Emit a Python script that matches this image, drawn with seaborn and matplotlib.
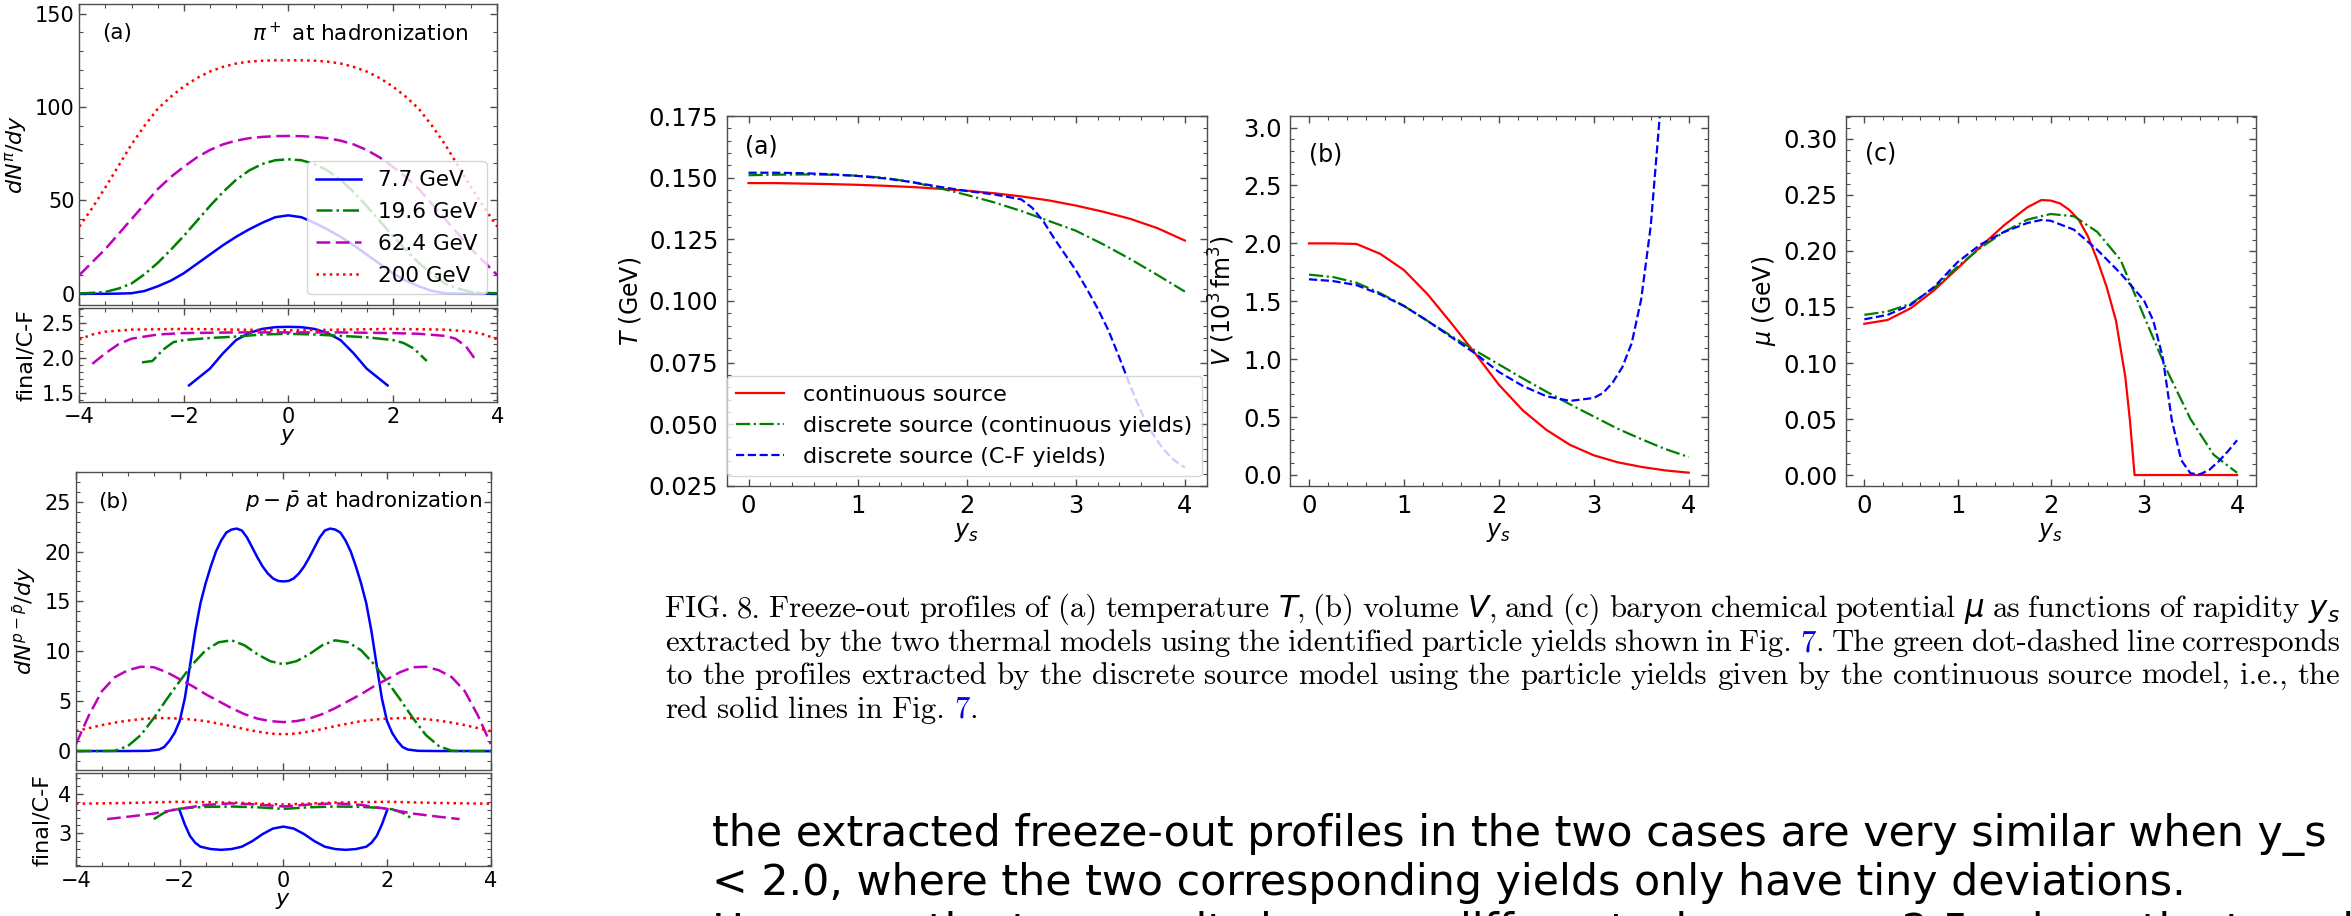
import numpy as np
import matplotlib
matplotlib.use("Agg")
import matplotlib.pyplot as plt
from matplotlib.ticker import AutoMinorLocator, MultipleLocator
import seaborn as sns

# ---------------------------------------------------------------------------
# Data
# ---------------------------------------------------------------------------
# pi+ rapidity spectra at hadronization (0.25 steps in y)
y_pi = np.arange(-4.0, 4.001, 0.25)
pi_77 = [0, 0, 0, 0.1, 0.3, 1.5, 4, 7, 11, 16, 21, 26, 30.5, 34.5, 38, 41, 42,
         41, 38, 34.5, 30.5, 26, 21, 16, 11, 7, 4, 1.5, 0.3, 0.1, 0, 0, 0]
pi_196 = [0.2, 0.5, 1, 2.8, 5.5, 10.5, 16.5, 23.5, 31, 39, 47, 54.5, 61, 66, 69.5, 71.5, 72,
          71.5, 69.5, 66, 61, 54.5, 47, 39, 31, 23.5, 16.5, 10.5, 5.5, 2.8, 1, 0.5, 0.2]
pi_624 = [10, 17, 24, 32, 40, 48, 56, 62.5, 68, 73, 77, 80, 82, 83.3, 84, 84.4, 84.5,
          84.4, 84, 83.3, 82, 80, 77, 73, 68, 62.5, 56, 48, 40, 32, 24, 17, 10]
pi_200 = [36, 46, 57, 68.5, 80, 90, 99, 105.5, 111, 115.5, 119, 121.5, 123.3, 124.3, 124.8, 125, 125,
          125, 124.8, 124.3, 123.3, 121.5, 119, 115.5, 111, 105.5, 99, 90, 80, 68.5, 57, 46, 36]

# pi+ final / C-F ratios
rpi_77_y = [-1.9, -1.75, -1.5, -1.25, -1, -0.75, -0.5, -0.25, 0, 0.25, 0.5, 0.75, 1, 1.25, 1.5, 1.75, 1.9]
rpi_77 = [1.61, 1.70, 1.85, 2.07, 2.26, 2.36, 2.42, 2.445, 2.45, 2.445, 2.42, 2.36, 2.26, 2.07, 1.85, 1.70, 1.61]
rpi_196_y = [-2.8, -2.6, -2.4, -2.2, -2, -1.5, -1, -0.5, 0, 0.5, 1, 1.5, 2, 2.2, 2.4, 2.65]
rpi_196 = [1.94, 1.96, 2.12, 2.23, 2.26, 2.29, 2.31, 2.34, 2.35, 2.34, 2.32, 2.30, 2.26, 2.22, 2.14, 1.96]
rpi_624_y = [-3.75, -3.5, -3.25, -3, -2.5, -2, -1, 0, 1, 2, 2.5, 3, 3.2, 3.4, 3.6]
rpi_624 = [1.92, 2.07, 2.20, 2.28, 2.34, 2.36, 2.37, 2.37, 2.37, 2.36, 2.35, 2.32, 2.28, 2.17, 1.96]
rpi_200_y = [-4, -3.75, -3.5, -3, -2, -1, 0, 1, 2, 3, 3.5, 3.75, 4]
rpi_200 = [2.27, 2.34, 2.38, 2.41, 2.42, 2.41, 2.40, 2.41, 2.42, 2.41, 2.38, 2.34, 2.27]

# net-proton rapidity spectra at hadronization
y_pp77 = [-4, -3, -2.6, -2.4, -2.3, -2.2, -2.1, -2.0, -1.9, -1.8, -1.7, -1.6, -1.5, -1.4, -1.3,
          -1.2, -1.1, -1.0, -0.9, -0.8, -0.7, -0.6, -0.5, -0.4, -0.3, -0.2, -0.1, 0,
          0.1, 0.2, 0.3, 0.4, 0.5, 0.6, 0.7, 0.8, 0.9, 1.0, 1.1, 1.2, 1.3, 1.4, 1.5,
          1.6, 1.7, 1.8, 1.9, 2.0, 2.1, 2.2, 2.3, 2.4, 2.6, 3, 4]
pp_77 = [0, 0, 0.02, 0.15, 0.4, 1.0, 1.8, 3.0, 5.3, 8.6, 12.0, 14.8, 16.8, 18.5, 20.0,
         21.1, 21.9, 22.2, 22.3, 22.1, 21.4, 20.4, 19.4, 18.5, 17.8, 17.3, 17.05, 17.0,
         17.05, 17.3, 17.8, 18.5, 19.4, 20.4, 21.4, 22.1, 22.3, 22.2, 21.9, 21.1, 20.0, 18.5, 16.8,
         14.8, 12.0, 8.6, 5.3, 3.0, 1.8, 1.0, 0.4, 0.15, 0.02, 0, 0]
y_pp = np.arange(-4.0, 4.001, 0.25)
pp_196 = [0, 0, 0, 0.02, 0.5, 1.6, 3.3, 5.2, 7.0, 8.7, 10.1, 10.9, 11.1, 10.6, 9.7, 9.0, 8.7,
          9.0, 9.7, 10.6, 11.1, 10.9, 10.1, 8.7, 7.0, 5.2, 3.3, 1.6, 0.5, 0.02, 0, 0, 0]
pp_624 = [0.7, 3.6, 6.0, 7.4, 8.1, 8.45, 8.4, 7.9, 7.2, 6.5, 5.7, 5.0, 4.3, 3.7, 3.25, 3.0, 2.9,
          3.0, 3.25, 3.7, 4.3, 5.0, 5.7, 6.5, 7.2, 7.9, 8.4, 8.45, 8.1, 7.4, 6.0, 3.6, 0.7]
pp_200 = [2.0, 2.3, 2.6, 2.85, 3.05, 3.2, 3.3, 3.3, 3.25, 3.15, 3.0, 2.75, 2.5, 2.2, 1.95, 1.75, 1.68,
          1.75, 1.95, 2.2, 2.5, 2.75, 3.0, 3.15, 3.25, 3.3, 3.3, 3.2, 3.05, 2.85, 2.6, 2.3, 2.0]

# net-proton final / C-F ratios
rpp_77_y = [-2, -1.9, -1.8, -1.7, -1.6, -1.4, -1.2, -1.0, -0.8, -0.6, -0.4, -0.2, 0,
            0.2, 0.4, 0.6, 0.8, 1.0, 1.2, 1.4, 1.6, 1.7, 1.8, 1.9, 2.0]
rpp_77 = [3.58, 3.22, 2.93, 2.76, 2.66, 2.60, 2.58, 2.60, 2.66, 2.80, 2.98, 3.12, 3.17,
          3.12, 2.98, 2.80, 2.66, 2.60, 2.58, 2.60, 2.66, 2.76, 2.93, 3.22, 3.58]
rpp_196_y = [-2.5, -2.3, -2.1, -1.8, -1.5, -1, -0.5, 0, 0.5, 1, 1.5, 1.8, 2.1, 2.3, 2.5]
rpp_196 = [3.36, 3.52, 3.61, 3.65, 3.67, 3.68, 3.66, 3.62, 3.66, 3.68, 3.67, 3.65, 3.61, 3.52, 3.36]
rpp_624_y = [-3.4, -3, -2.5, -2, -1.5, -1, -0.5, 0, 0.5, 1, 1.5, 2, 2.5, 3, 3.4]
rpp_624 = [3.36, 3.42, 3.50, 3.62, 3.72, 3.76, 3.73, 3.68, 3.73, 3.76, 3.72, 3.62, 3.50, 3.42, 3.36]
rpp_200_y = [-4, -3, -2, -1, 0, 1, 2, 3, 4]
rpp_200 = [3.75, 3.77, 3.80, 3.78, 3.73, 3.78, 3.80, 3.77, 3.75]

energies = ["7.7 GeV", "19.6 GeV", "62.4 GeV", "200 GeV"]

# freeze-out profiles versus source rapidity y_s
ys = np.arange(0.0, 4.001, 0.25)
T_cont = [0.1478, 0.1478, 0.1476, 0.1474, 0.1471, 0.1467, 0.1462, 0.1455, 0.1447,
          0.1437, 0.1424, 0.1408, 0.1387, 0.1362, 0.1333, 0.1295, 0.1245]
T_disc_cont = [0.1510, 0.1512, 0.1513, 0.1512, 0.1508, 0.1499, 0.1482, 0.1458, 0.1430,
               0.1400, 0.1365, 0.1325, 0.1285, 0.1230, 0.1170, 0.1105, 0.1038]
ys_T_cf = [0, 0.25, 0.5, 0.75, 1, 1.25, 1.5, 1.75, 2, 2.25, 2.5, 2.6, 2.7, 2.8, 2.9,
           3.0, 3.1, 3.2, 3.3, 3.4, 3.5, 3.6, 3.7, 3.8, 3.9, 4.0]
T_disc_cf = [0.1520, 0.1520, 0.1518, 0.1514, 0.1507, 0.1497, 0.1482, 0.1463, 0.1446,
             0.1432, 0.1412, 0.1378, 0.1325, 0.1255, 0.1190, 0.1125, 0.1050, 0.0970,
             0.0880, 0.0770, 0.0655, 0.0550, 0.0465, 0.0400, 0.0355, 0.0325]

V_cont = [2.0, 2.0, 1.995, 1.91, 1.77, 1.56, 1.31, 1.05, 0.78, 0.56, 0.39, 0.26, 0.17,
          0.11, 0.07, 0.04, 0.02]
V_disc_cont = [1.73, 1.71, 1.66, 1.57, 1.46, 1.33, 1.20, 1.075, 0.955, 0.835, 0.72, 0.61,
               0.505, 0.40, 0.31, 0.225, 0.155]
ys_V_cf = [0, 0.25, 0.5, 0.75, 1, 1.25, 1.5, 1.75, 2, 2.25, 2.5, 2.75, 3.0, 3.1, 3.2,
           3.3, 3.4, 3.5, 3.6, 3.7, 3.75]
V_disc_cf = [1.69, 1.675, 1.64, 1.56, 1.46, 1.33, 1.19, 1.05, 0.89, 0.77, 0.68, 0.64,
             0.665, 0.71, 0.80, 0.93, 1.14, 1.52, 2.15, 3.15, 3.9]

ys_mu_cont = [0, 0.25, 0.5, 0.75, 1, 1.25, 1.5, 1.75, 1.9, 2.0, 2.1, 2.2, 2.3, 2.4, 2.5,
              2.6, 2.7, 2.8, 2.85, 2.9, 3.0, 3.5, 4.0]
mu_cont = [0.135, 0.1384, 0.149, 0.165, 0.1845, 0.204, 0.223, 0.239, 0.2455, 0.245,
           0.2425, 0.2366, 0.228, 0.213, 0.192, 0.168, 0.138, 0.088, 0.049, 0.0, 0.0, 0.0, 0.0]
mu_disc_cont = [0.143, 0.146, 0.153, 0.167, 0.186, 0.203, 0.217, 0.228, 0.233, 0.231,
                0.217, 0.192, 0.142, 0.093, 0.050, 0.018, 0.002]
ys_mu_cf = [0, 0.25, 0.5, 0.75, 1, 1.25, 1.5, 1.75, 1.9, 2.0, 2.25, 2.5, 2.75, 3.0, 3.1,
            3.2, 3.3, 3.4, 3.5, 3.6, 3.7, 3.8, 3.9, 4.0]
mu_disc_cf = [0.139, 0.143, 0.152, 0.168, 0.190, 0.206, 0.217, 0.225, 0.2277, 0.227,
              0.219, 0.201, 0.180, 0.156, 0.138, 0.106, 0.049, 0.0134, 0.0015, 0.0006,
              0.0045, 0.012, 0.021, 0.031]

models = ["continuous source", "discrete source (continuous yields)", "discrete source (C-F yields)"]

caption_lines = [
    "FIG. 8. Freeze-out profiles of (a) temperature $T$, (b) volume $V$, and (c) baryon "
    "chemical potential $\\mu$ as functions of rapidity $y_s$",
    "extracted by the two thermal models using the identified particle yields shown in "
    "Fig. [7]. The green dot-dashed line corresponds",
    "to the profiles extracted by the discrete source model using the particle yields "
    "given by the continuous source model, i.e., the",
    "red solid lines in Fig. [7].",
]
note_lines = [
    "the extracted freeze-out profiles in the two cases are very similar when y_s",
    "< 2.0, where the two corresponding yields only have tiny deviations.",
    "However, the two results become different when y_s > 2.5, where the two yields",
]

# ---------------------------------------------------------------------------
# Figure
# ---------------------------------------------------------------------------
W, H, DPI = 2351, 916, 100
plt.rcParams.update({
    "font.family": "DejaVu Sans",
    "mathtext.fontset": "dejavusans",
    "axes.edgecolor": "0.3",
    "axes.linewidth": 1.0,
    "xtick.color": "0.3",
    "ytick.color": "0.3",
    "xtick.labelcolor": "black",
    "ytick.labelcolor": "black",
    "legend.edgecolor": "0.8",
})
fig = plt.figure(figsize=(W / DPI, H / DPI), dpi=DPI)
fig.patch.set_facecolor("white")


def box(x0, y0, x1, y1):
    return fig.add_axes([x0 / W, 1 - y1 / H, (x1 - x0) / W, (y1 - y0) / H])


def style(ax, fs, pad=3.5):
    ax.tick_params(which="both", direction="in", top=True, right=True, labelsize=fs, pad=pad)
    ax.tick_params(which="major", length=5, width=1.0)
    ax.tick_params(which="minor", length=2.6, width=0.8)
    ax.xaxis.set_minor_locator(AutoMinorLocator())
    ax.yaxis.set_minor_locator(AutoMinorLocator())


def line(ax, x, y, color, ls, lw, label=None, dashes=None):
    kw = dict(x=np.asarray(x, float), y=np.asarray(y, float), ax=ax, color=color,
              linestyle=ls, linewidth=lw, estimator=None, errorbar=None,
              sort=False, legend=False)
    if label is not None:
        kw["label"] = label
    sns.lineplot(**kw)
    if dashes is not None:
        ax.lines[-1].set_dashes(dashes)


cols = ["#0000ff", "#008000", "#bf00bf", "#ff0000"]
styles = ["-", "-.", "--", ":"]
mag_dash = (5.5, 2.2)
LW = 1.8
LFS, LLAB, LTXT = 15, 16, 15.5

# --- (a) pi+ spectra -------------------------------------------------------
axA = box(79.3, 4.3, 497.3, 305)
axAr = box(79.3, 308, 497.3, 401.7)
spec = [pi_77, pi_196, pi_624, pi_200]
for i in range(4):
    line(axA, y_pi, spec[i], cols[i], styles[i], LW, label=energies[i],
         dashes=mag_dash if i == 2 else None)
ratios = [(rpi_77_y, rpi_77), (rpi_196_y, rpi_196), (rpi_624_y, rpi_624), (rpi_200_y, rpi_200)]
for i, (xx, rr) in enumerate(ratios):
    line(axAr, xx, rr, cols[i], styles[i], LW, dashes=mag_dash if i == 2 else None)
axA.set_xlim(-4, 4); axA.set_ylim(-6, 155)
axA.yaxis.set_major_locator(MultipleLocator(50))
axA.xaxis.set_major_locator(MultipleLocator(2))
axAr.set_xlim(-4, 4); axAr.set_ylim(1.376, 2.72)
axAr.yaxis.set_major_locator(MultipleLocator(0.5))
axAr.xaxis.set_major_locator(MultipleLocator(2))
for a in (axA, axAr):
    style(a, LFS)
axA.tick_params(labelbottom=False)
axA.set_xlabel(""); axA.set_ylabel(r"$dN^{\pi}/dy$", fontsize=LLAB)
axAr.set_ylabel("final/C-F", fontsize=LLAB)
axAr.set_xlabel(r"$y$", fontsize=LLAB, labelpad=0)
axA.text(0.054, 0.904, "(a)", transform=axA.transAxes, fontsize=LTXT, va="center")
axA.text(0.93, 0.904, r"$\pi^+$ at hadronization", transform=axA.transAxes,
         fontsize=LTXT, va="center", ha="right")
axA.legend(loc="lower right", fontsize=LTXT, handlelength=2.1, handletextpad=0.8,
           labelspacing=0.55)

# --- (b) net-proton spectra ------------------------------------------------
axB = box(76, 471.7, 490.7, 770)
axBr = box(76, 773, 490.7, 866)
line(axB, y_pp77, pp_77, cols[0], styles[0], LW)
for i, s in zip((1, 2, 3), (pp_196, pp_624, pp_200)):
    line(axB, y_pp, s, cols[i], styles[i], LW, dashes=mag_dash if i == 2 else None)
ratios = [(rpp_77_y, rpp_77), (rpp_196_y, rpp_196), (rpp_624_y, rpp_624), (rpp_200_y, rpp_200)]
for i, (xx, rr) in enumerate(ratios):
    line(axBr, xx, rr, cols[i], styles[i], LW, dashes=mag_dash if i == 2 else None)
axB.set_xlim(-4, 4); axB.set_ylim(-1.9, 28)
axB.yaxis.set_major_locator(MultipleLocator(5))
axB.xaxis.set_major_locator(MultipleLocator(2))
axBr.set_xlim(-4, 4); axBr.set_ylim(2.17, 4.53)
axBr.yaxis.set_major_locator(MultipleLocator(1))
axBr.xaxis.set_major_locator(MultipleLocator(2))
for a in (axB, axBr):
    style(a, LFS)
axB.tick_params(labelbottom=False)
axB.set_xlabel(""); axB.set_ylabel(r"$dN^{p-\bar{p}}/dy$", fontsize=LLAB)
axBr.set_ylabel("final/C-F", fontsize=LLAB)
axBr.set_xlabel(r"$y$", fontsize=LLAB, labelpad=0)
axB.text(0.054, 0.899, "(b)", transform=axB.transAxes, fontsize=LTXT, va="center")
axB.text(0.978, 0.899, r"$p-\bar{p}$ at hadronization", transform=axB.transAxes,
         fontsize=LTXT, va="center", ha="right")

# --- freeze-out profiles ---------------------------------------------------
rcol = ["#ff0000", "#008000", "#0000ff"]
rsty = ["-", "-.", "--"]
RLW = 1.6
RFS, RLAB = 17.5, 17
top, bot = 116, 486
axT = box(726.7, top, 1206.7, bot)
axV = box(1290, top, 1707.7, bot)
axM = box(1845.7, top, 2255.7, bot)

line(axT, ys, T_cont, rcol[0], rsty[0], RLW, label=models[0])
line(axT, ys, T_disc_cont, rcol[1], rsty[1], RLW, label=models[1])
line(axT, ys_T_cf, T_disc_cf, rcol[2], rsty[2], RLW, label=models[2])
line(axV, ys, V_cont, rcol[0], rsty[0], RLW)
line(axV, ys, V_disc_cont, rcol[1], rsty[1], RLW)
line(axV, ys_V_cf, V_disc_cf, rcol[2], rsty[2], RLW)
line(axM, ys_mu_cont, mu_cont, rcol[0], rsty[0], RLW)
line(axM, ys, mu_disc_cont, rcol[1], rsty[1], RLW)
line(axM, ys_mu_cf, mu_disc_cf, rcol[2], rsty[2], RLW)

axT.set_ylim(0.025, 0.175); axT.yaxis.set_major_locator(MultipleLocator(0.025))
axV.set_ylim(-0.095, 3.1); axV.yaxis.set_major_locator(MultipleLocator(0.5))
axM.set_ylim(-0.0098, 0.3205); axM.yaxis.set_major_locator(MultipleLocator(0.05))
for a, lab, tag, tx, ty in ((axT, r"$T$ (GeV)", "(a)", 0.038, 0.917),
                            (axV, r"$V$ ($10^3\,$fm$^3$)", "(b)", 0.045, 0.895),
                            (axM, r"$\mu$ (GeV)", "(c)", 0.047, 0.899)):
    a.set_xlim(-0.2, 4.2)
    a.xaxis.set_major_locator(MultipleLocator(1))
    style(a, RFS, pad=6)
    a.set_xlabel(r"$y_s$", fontsize=RLAB, labelpad=1.5)
    a.set_ylabel(lab, fontsize=RLAB)
    a.text(tx, ty, tag, transform=a.transAxes, fontsize=RLAB, va="center")
axT.legend(loc="lower left", bbox_to_anchor=(0.0, 0.027), borderaxespad=0.0,
           fontsize=16, handlelength=2.2, handletextpad=0.85)

# ---------------------------------------------------------------------------
# Caption (justified) and note text
# ---------------------------------------------------------------------------
renderer = fig.canvas.get_renderer()


def split_words(s):
    words = []
    for w in s.split(" "):
        if "[7]" in w:
            pre, post = w.split("[7]")
            parts = [(pre, "black"), ("7", "#0000ee"), (post, "black")]
            words.append([p for p in parts if p[0]])
        else:
            words.append([(w, "black")])
    return words


CAP_FONT = dict(family="cmr10", va="baseline", ha="left")


def measure(words, fs):
    widths = []
    for word in words:
        w = 0.0
        for s, c in word:
            t = fig.text(0, 0, s, fontsize=fs, color=c, **CAP_FONT)
            w += t.get_window_extent(renderer).width
            t.remove()
        widths.append(w)
    return widths


cap_x0, cap_x1 = 665, 2340
cap_base = [617, 651, 684, 718]
base_fs = 18.0
words_all = [split_words(s) for s in caption_lines]
nat = []
for words in words_all[:3]:
    ws = measure(words, base_fs)
    nat.append(sum(ws) + (len(ws) - 1) * base_fs * DPI / 72 * 0.333)
cap_fs = base_fs * (cap_x1 - cap_x0) * 1.03 / max(nat)

for li, words in enumerate(words_all):
    ws = measure(words, cap_fs)
    if li < 3:
        gap = (cap_x1 - cap_x0 - sum(ws)) / (len(ws) - 1)
    else:
        gap = cap_fs * DPI / 72 * 0.3
    x = cap_x0
    for word, w in zip(words, ws):
        xx = x
        for s, c in word:
            t = fig.text(xx / W, 1 - cap_base[li] / H, s, fontsize=cap_fs, color=c, **CAP_FONT)
            xx += t.get_window_extent(renderer).width
        x += w + gap

# large note text
probe = fig.text(0, 0, note_lines[0], fontsize=27, family="DejaVu Sans")
note_fs = 27 * (2327 - 712) / probe.get_window_extent(renderer).width
probe.remove()
for i, s in enumerate(note_lines):
    fig.text(712 / W, 1 - (846.0 + 49.0 * i) / H, s, fontsize=note_fs,
             family="DejaVu Sans", va="baseline", ha="left", color="black")

fig.savefig("out.png", dpi=DPI, facecolor="white")
